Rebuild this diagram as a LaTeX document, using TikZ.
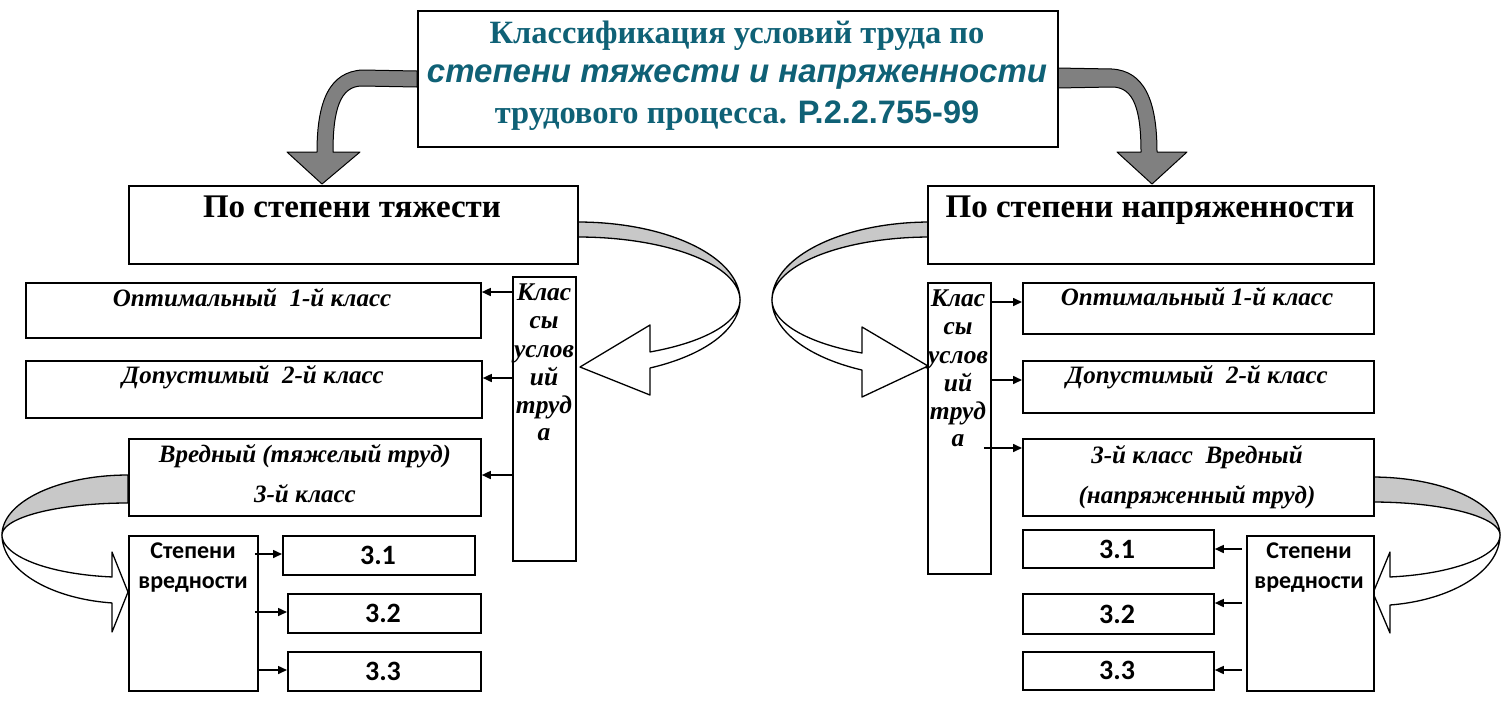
\documentclass[tikz,border=0pt]{standalone}
\usepackage{fontspec}
\setmainfont{Liberation Serif}
\newfontfamily\arialf{Liberation Sans}
\newfontfamily\calibf{Carlito}
\usetikzlibrary{arrows.meta}
\definecolor{ttl}{HTML}{0F6176}
\definecolor{ribgrey}{HTML}{C8C8C8}
\definecolor{darkarr}{HTML}{808080}
\newcommand\mybox[5]{\node[box, anchor=north west, minimum width={#4-#2}, minimum height={#5-#3}] (#1) at (#2,#3) {};}
\begin{document}
\begin{tikzpicture}[x=1pt,y=-1pt,
  box/.style={draw, line width=1.8pt, fill=white, inner sep=0pt},
  conn/.style={line width=1.6pt, -{Triangle[length=9pt,width=8pt]}},
  rib/.style={draw, line width=1.3pt, line join=round},
  bigarr/.style={draw, fill=darkarr, line width=1pt, line join=round},
  txt/.style={inner sep=0pt, anchor=base},
  lvl/.style={txt, font=\bfseries\itshape\fontsize{25}{29}\selectfont},
  kls/.style={txt, font=\bfseries\itshape\fontsize{25.5}{29}\selectfont},
  cal/.style={txt, font=\calibf\bfseries\fontsize{24}{28}\selectfont},
  num/.style={txt, font=\calibf\bfseries\fontsize{28}{32}\selectfont}]
\useasboundingbox (0,0) rectangle (1502,705);

% ---- grey arrows from the title
\path[bigarr] (417,71) -- (362,70) .. controls (330,72) and (317,100) .. (317,152)
  -- (287,152) -- (322,184) -- (360,152) -- (333,152)
  .. controls (333,110) and (340,86) .. (362,86) -- (417,87) -- cycle;
\path[bigarr] (1057,68) -- (1112,69) .. controls (1144,71) and (1157,100) .. (1157,152)
  -- (1187,152) -- (1152,184) -- (1117,152) -- (1141,152)
  .. controls (1141,110) and (1134,87) .. (1112,87) -- (1057,88) -- cycle;

% ---- middle left ribbon
\path[rib, fill=ribgrey] plot[domain=-90:0,samples=40] ({578+162*cos(\x)},{300+78*sin(\x)})
  -- plot[domain=0:-90,samples=40] ({578+162*cos(\x)},{300+63*sin(\x)}) -- cycle;
\path[rib, fill=white] plot[domain=0:63.6,samples=40] ({578+162*cos(\x)},{300+58*sin(\x)})
  -- (650,325) -- (580,367) -- (650,395)
  -- plot[domain=63.6:0,samples=40] ({578+162*cos(\x)},{300+75.9*sin(\x)}) -- cycle;

% ---- middle right ribbon
\path[rib, fill=ribgrey] plot[domain=-90:0,samples=40] ({930-158*cos(\x)},{300+78*sin(\x)})
  -- plot[domain=0:-90,samples=40] ({930-158*cos(\x)},{300+63*sin(\x)}) -- cycle;
\path[rib, fill=white] plot[domain=0:64.5,samples=40] ({930-158*cos(\x)},{300+58.7*sin(\x)})
  -- (862,327) -- (928,366) -- (862,397)
  -- plot[domain=64.5:0,samples=40] ({930-158*cos(\x)},{300+77.6*sin(\x)}) -- cycle;

% ---- bottom left ribbon
\path[rib, fill=ribgrey] plot[domain=-90:0,samples=40] ({128-126*cos(\x)},{535+60*sin(\x)})
  -- plot[domain=0:-90,samples=40] ({128-126*cos(\x)},{535+32*sin(\x)}) -- cycle;
\path[rib, fill=white] plot[domain=0:82.7,samples=40] ({128-126*cos(\x)},{535+42.3*sin(\x)})
  -- (112,552) -- (128,592) -- (112,632)
  -- plot[domain=82.7:0,samples=40] ({128-126*cos(\x)},{535+68.5*sin(\x)}) -- cycle;

% ---- bottom right ribbon
\path[rib, fill=ribgrey] plot[domain=-90:0,samples=40] ({1372+128*cos(\x)},{535+58*sin(\x)})
  -- plot[domain=0:-90,samples=40] ({1372+128*cos(\x)},{535+33*sin(\x)}) -- cycle;
\path[rib, fill=white] plot[domain=0:81.9,samples=40] ({1372+128*cos(\x)},{535+42.4*sin(\x)})
  -- (1390,552) -- (1373,593) -- (1390,633)
  -- plot[domain=81.9:0,samples=40] ({1372+128*cos(\x)},{535+70.7*sin(\x)}) -- cycle;

% ---- boxes
\mybox{title}{417}{10}{1057}{146}
\mybox{hL}{128}{185}{577}{263}
\mybox{hR}{927}{185}{1373}{263}
\mybox{klL}{512}{276}{575}{560}
\mybox{klR}{927}{282}{990}{573}
\mybox{optL}{25}{282}{480}{337}
\mybox{dopL}{25}{360}{481}{417}
\mybox{vrL}{128}{438}{480}{515}
\mybox{optR}{1022}{282}{1373}{333}
\mybox{dopR}{1022}{360}{1373}{412}
\mybox{vrR}{1022}{438}{1373}{515}
\mybox{stL}{128}{535}{257}{690}
\mybox{aL}{282}{535}{474}{574}
\mybox{bL}{287}{593}{480}{632}
\mybox{cL}{287}{651}{480}{690}
\mybox{stR}{1246}{535}{1373}{690}
\mybox{aR}{1022}{529}{1213}{567}
\mybox{bR}{1022}{593}{1213}{633}
\mybox{cR}{1022}{651}{1213}{689}

% ---- title text
\node[txt, text=ttl, font=\bfseries\fontsize{32.5}{36}\selectfont] (t1) at (737,43) {Классификация условий труда по};
\node[txt, text=ttl, font=\arialf\bfseries\itshape\fontsize{33}{36}\selectfont] (t2) at (737,82) {степени тяжести и напряженности};
\node[txt, text=ttl, font=\bfseries\fontsize{32.5}{36}\selectfont] (t3) at (737,123) {трудового процесса. {\arialf Р.2.2.755-99}};

\node[txt, font=\bfseries\fontsize{33}{36}\selectfont] (hLt) at (352,217) {По степени тяжести};
\node[txt, font=\bfseries\fontsize{33}{36}\selectfont] (hRt) at (1150,217) {По степени напряженности};

% ---- level texts
\node[lvl] (optLt) at (252,306) {Оптимальный\ \ 1-й класс};
\node[lvl] (dopLt) at (253,383) {Допустимый\ \ 2-й класс};
\node[lvl] (vrLt1) at (305,462) {Вредный (тяжелый труд)};
\node[lvl] (vrLt2) at (305,502) {3-й класс};
\node[lvl] (optRt) at (1197,305) {Оптимальный 1-й класс};
\node[lvl] (dopRt) at (1197,383) {Допустимый\ \ 2-й класс};
\node[lvl] (vrRt1) at (1197,463) {3-й класс\ \ Вредный};
\node[lvl] (vrRt2) at (1197,503) {(напряженный труд)};

% ---- classes columns
\node[kls] (kL1) at (544,300) {Клас};
\node[kls] (kL2) at (544,328) {сы};
\node[kls] (kL3) at (544,357) {услов};
\node[kls] (kL4) at (544,385) {ий};
\node[kls] (kL5) at (544,413) {труд};
\node[kls] (kL6) at (544,440) {а};
\node[kls] (kR1) at (958,306) {Клас};
\node[kls] (kR2) at (958,334) {сы};
\node[kls] (kR3) at (958,363) {услов};
\node[kls] (kR4) at (958,391) {ий};
\node[kls] (kR5) at (958,419) {труд};
\node[kls] (kR6) at (958,446) {а};

% ---- degrees
\node[cal] (sL1) at (193,558) {Степени};
\node[cal] (sL2) at (193,588) {вредности};
\node[cal] (sR1) at (1309,558) {Степени};
\node[cal] (sR2) at (1309,588) {вредности};
\node[num] (aLt) at (378,564) {3.1};
\node[num] (bLt) at (383,622) {3.2};
\node[num] (cLt) at (383,680) {3.3};
\node[num] (aRt) at (1117,558) {3.1};
\node[num] (bRt) at (1117,623) {3.2};
\node[num] (cRt) at (1117,679) {3.3};

% ---- connectors
\draw[conn] (klL.west |- 0,292) -- (optL.east |- 0,292);
\draw[conn] (klL.west |- 0,378) -- (dopL.east |- 0,378);
\draw[conn] (klL.west |- 0,475) -- (vrL.east |- 0,475);
\draw[conn] (klR.east |- 0,302) -- (optR.west |- 0,302);
\draw[conn] (klR.east |- 0,380) -- (dopR.west |- 0,380);
\draw[conn] ([xshift=-8pt]klR.east |- 0,448) -- (vrR.west |- 0,448);
\draw[conn] ([xshift=-4pt]stL.east |- 0,554) -- (aL.west |- 0,554);
\draw[conn] ([xshift=-4pt]stL.east |- 0,612) -- (bL.west |- 0,612);
\draw[conn] (stL.east |- 0,670) -- (cL.west |- 0,670);
\draw[conn] ([xshift=-4pt]stR.west |- 0,549) -- (aR.east |- 0,549);
\draw[conn] ([xshift=-4pt]stR.west |- 0,603) -- (bR.east |- 0,603);
\draw[conn] ([xshift=-4pt]stR.west |- 0,670) -- (cR.east |- 0,670);
\end{tikzpicture}
\end{document}
